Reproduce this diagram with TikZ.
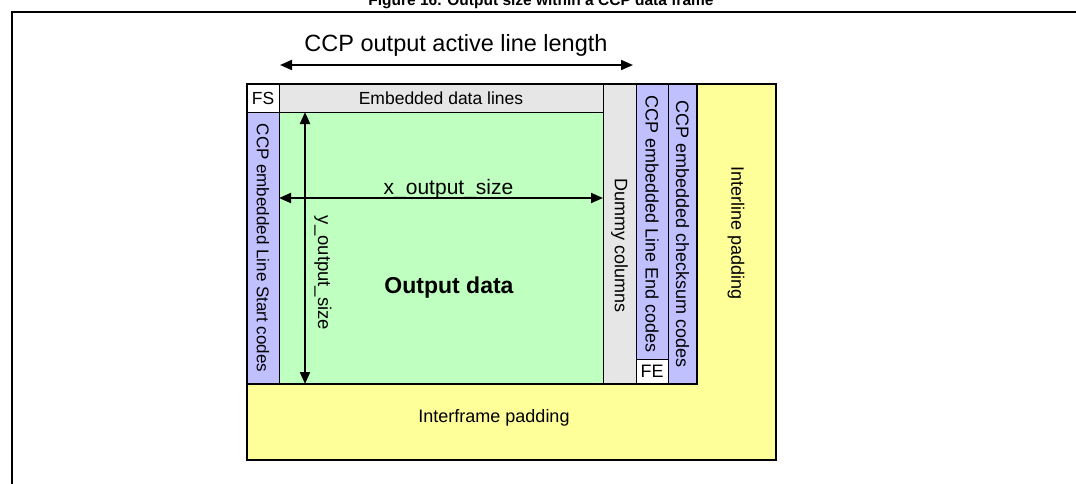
\documentclass[tikz,border=0pt]{standalone}
\usepackage{fontspec}
\setmainfont{Liberation Sans}
\usetikzlibrary{arrows.meta}
\definecolor{lgreen}{HTML}{BFFFBF}
\definecolor{lblue}{HTML}{C0C0FF}
\definecolor{lgray}{HTML}{E6E6E6}
\definecolor{lyellow}{HTML}{FFFF99}
\begin{document}
\begin{tikzpicture}[x=1pt,y=-1pt,
  blk/.style={draw=black, line width=1pt, inner sep=0pt, outer sep=0pt, anchor=north west},
  lbl/.style={font=\fontsize{18}{20}\selectfont, inner sep=0pt},
  vlbl/.style={lbl, rotate=-90},
  dim/.style={line width=2pt, {Triangle[length=12pt,width=10pt]}-{Triangle[length=12pt,width=10pt]}}]
\useasboundingbox (0,0) rectangle (1076,483);
% outer frame
\draw[line width=2.5pt] (1090,12) -- (12,12) -- (12,500);
\node[font=\fontsize{15.5}{18}\selectfont\bfseries, anchor=base, inner sep=0pt] (title) at (541,5) {Figure 16. Output size within a CCP data frame};
% padding
\node[blk, line width=2pt, fill=lyellow, minimum width=529pt, minimum height=376pt] (pad) at (247,84) {};
% blocks
\node[blk, fill=white, minimum width=32pt, minimum height=28pt] (fs) at (247,84) {};
\node[blk, fill=lgray, minimum width=324pt, minimum height=28pt] (emb) at (279,84) {};
\node[blk, fill=lblue, minimum width=32pt, minimum height=272pt] (start) at (247,112) {};
\node[blk, fill=lgreen, minimum width=324pt, minimum height=272pt] (out) at (279,112) {};
\node[blk, fill=lgray, minimum width=33pt, minimum height=300pt] (dummy) at (603,84) {};
\node[blk, fill=lblue, minimum width=32pt, minimum height=275pt] (lend) at (636,84) {};
\node[blk, fill=white, minimum width=32pt, minimum height=25pt] (fe) at (636,359) {};
\node[blk, fill=lblue, minimum width=29pt, minimum height=300pt] (chk) at (668,84) {};
\draw[line width=2pt] (fs.north west) rectangle (chk.south east);
% labels
\node[lbl, font=\fontsize{17.5}{20}\selectfont] at (fs.center) {FS};
\node[lbl, font=\fontsize{17.5}{20}\selectfont] at (emb.center) {Embedded data lines};
\node[lbl] at (fe.center) {FE};
\node[vlbl, font=\fontsize{17}{20}\selectfont] at (start.center) {CCP embedded Line Start codes};
\node[vlbl, anchor=east] at (619.5,313) {Dummy columns};
\node[vlbl, anchor=west] at (652,95) {CCP embedded Line End codes};
\node[vlbl, anchor=west] at (682.5,100) {CCP embedded checksum codes};
\node[vlbl] at (736,233) {Interline padding};
\node[lbl, anchor=base] at (494,422.7) {Interframe padding};
\node[lbl, font=\fontsize{23}{26}\selectfont\bfseries, anchor=base] at (449,293.3) {Output data};
% dimensions
\coordinate (xa) at (279,198);
\coordinate (xb) at (603,198);
\draw[dim] (xa) -- (xb);
\node[lbl, font=\fontsize{21}{24}\selectfont, anchor=base] at (448.5,194) {x\_output\_size};
\coordinate (ya) at (305,112);
\coordinate (yb) at (305,384);
\draw[dim] (ya) -- (yb);
\node[vlbl, font=\fontsize{18.5}{20}\selectfont] at (323,273) {y\_output\_size};
\coordinate (la) at (280,65);
\coordinate (lb) at (633,65);
\draw[dim] (la) -- (lb);
\node[lbl, font=\fontsize{23.5}{26}\selectfont, anchor=base] at (456,51.7) {CCP output active line length};
\end{tikzpicture}
\end{document}
